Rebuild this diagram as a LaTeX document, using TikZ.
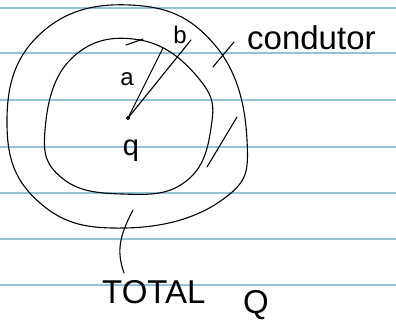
\documentclass[tikz,border=0pt]{standalone}
\usepackage{fontspec}
\setmainfont{Liberation Sans}
\begin{document}
\begin{tikzpicture}[x=1pt,y=-1pt,
  ink/.style={draw=black,line width=1.1pt,line cap=round,line join=round},
  rule/.style={draw={rgb,255:red,150;green,195;blue,215},line width=1.1pt},
  hand/.style={font=\fontsize{24}{24}\selectfont,inner sep=0pt},
  bighand/.style={font=\fontsize{33}{33}\selectfont,inner sep=0pt}]
\useasboundingbox (0,0) rectangle (396,323);
% ruled paper lines
\foreach \yy in {8,53,100,147,193,239,285}{
  \draw[rule] (0,\yy) -- (396,\yy);
}
% outer sphere (conductor)
\draw[ink] plot[smooth cycle,tension=0.75] coordinates{
 (130,5) (214,44) (247,140) (222,200) (125,228) (40,203) (7,125) (38,36)};
% inner sphere
\draw[ink] plot[smooth cycle,tension=0.75] coordinates{
 (140,40) (200,80) (211,128) (185,182) (122,194) (62,178) (45,130) (72,58)};
% small stroke near top of inner sphere
\draw[ink] (126,45) -- (143,39);
% centre point
\coordinate (c) at (128,118);
\draw[ink,fill=white] (c) circle (1.6pt);
\coordinate (ea) at (163,48);
\coordinate (eb) at (191,40);
\draw[ink] (c) -- (ea);
\draw[ink] (c) -- (eb);
% labels
\node[hand] (la) at (127,79) {a};
\node[hand] (lb) at (180,35) {b};
\node[font=\fontsize{29}{29}\selectfont,inner sep=0pt] (lq) at (131,151) {q};
\node[bighand,anchor=base west] (lcond) at (247,50) {condutor};
\node[bighand,anchor=base west] (ltot) at (102,303) {TOTAL};
\node[bighand,anchor=base west] (lQ) at (243,313) {Q};
% pointer to "condutor"
\coordinate (p1) at (213,67);
\coordinate (p2) at (234,42);
\draw[ink] (p1) -- (p2);
% stroke between spheres
\coordinate (s1) at (237,117);
\coordinate (s2) at (207,167);
\draw[ink] (s1) -- (s2);
% pointer to TOTAL Q
\coordinate (t1) at (133,210);
\coordinate (t2) at (124,273);
\draw[ink] (t1) .. controls (120,235) and (116,250) .. (t2);
\end{tikzpicture}
\end{document}
